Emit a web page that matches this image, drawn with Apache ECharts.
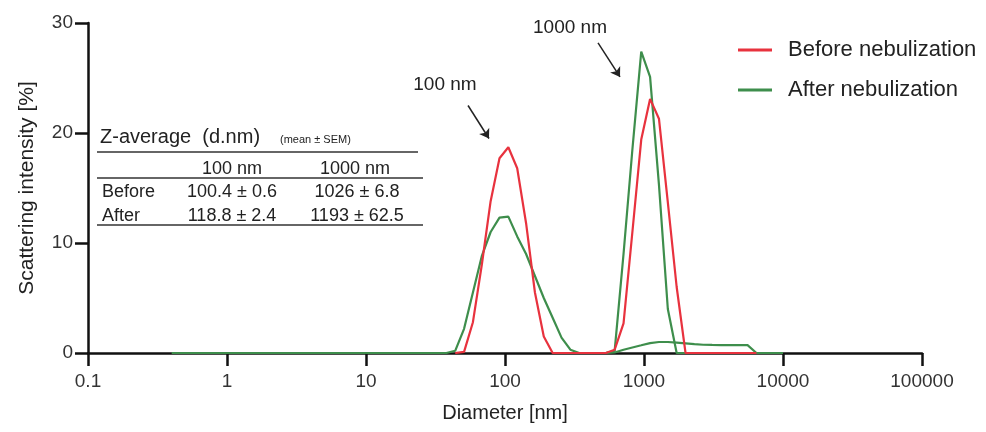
<!DOCTYPE html>
<html>
<head>
<meta charset="utf-8">
<script src="https://cdn.jsdelivr.net/npm/echarts@6/dist/echarts.min.js"></script>
<style>
html,body{margin:0;padding:0;background:#fff;}
#chart{width:986px;height:432px;}
</style>
</head>
<body>
<div id="chart"></div>
<script>
// Size classes (nm)
const sizeBins = [
  0.4, 0.4632, 0.5365, 0.6213, 0.7195, 0.8332, 0.9649, 1.117, 1.294, 1.499,
  1.736, 2.01, 2.328, 2.696, 3.122, 3.615, 4.187, 4.849, 5.615, 6.503,
  7.531, 8.721, 10.1, 11.7, 13.54, 15.69, 18.17, 21.04, 24.36, 28.21,
  32.67, 37.84, 43.82, 50.75, 58.77, 68.06, 78.82, 91.28, 105.7, 122.4,
  141.8, 164.2, 190.1, 220.2, 255, 295.3, 342, 396.1, 458.7, 531.2,
  615.1, 712.4, 825, 955.4, 1106, 1281, 1484, 1718, 1990, 2305,
  2669, 3091, 3580, 4145, 4801, 5560, 6439, 7456, 8635, 10000
];
// Before nebulization (%)
const beforeVals = [
  null, null, null, null, null, null, null, null, null, null,
  null, null, null, null, null, null, null, null, null, null,
  null, null, null, null, null, null, null, null, null, null,
  null, null, 0, 0.1, 2.8, 8.0, 13.8, 17.7, 18.7, 16.8,
  11.8, 5.5, 1.5, 0, 0, 0, 0, 0, 0, 0,
  0.3, 2.7, 11.0, 19.4, 23.1, 21.3, 13.7, 6.0, 0, 0,
  0, 0, 0, 0, 0, 0, 0, null, null, null
];
// After nebulization (%) - 100 nm sample trace with broad tail
const afterVals = [
  0, 0, 0, 0, 0, 0, 0, 0, 0, 0,
  0, 0, 0, 0, 0, 0, 0, 0, 0, 0,
  0, 0, 0, 0, 0, 0, 0, 0, 0, 0,
  0, 0, 0.2, 2.2, 5.5, 8.8, 11.0, 12.3, 12.4, 10.6,
  9.0, 7.0, 5.0, 3.2, 1.4, 0.3, 0, 0, 0, 0,
  0.05, 0.3, 0.5, 0.7, 0.9, 1.0, 1.0, 0.95, 0.88, 0.8,
  0.75, 0.73, 0.72, 0.72, 0.72, 0.72, 0, 0, 0, 0
];
// After nebulization (%) - 1000 nm sample trace
const afterPeakVals = [
  null, null, null, null, null, null, null, null, null, null,
  null, null, null, null, null, null, null, null, null, null,
  null, null, null, null, null, null, null, null, null, null,
  null, null, null, null, null, null, null, null, null, null,
  null, null, null, null, null, null, null, null, null, 0,
  0.2, 9.0, 18.5, 27.4, 25.1, 15.3, 4.0, 0, 0, null,
  null, null, null, null, null, null, null, null, null, null
];
const xTickLabels = ['0.1', '1', '10', '100', '1000', '10000', '100000'];
const yTickLabels = ['0', '10', '20', '30'];
const seriesNames = ['Before nebulization', 'After nebulization'];
const tableTitle = 'Z-average  (d.nm)';
const tableSubtitle = '(mean ± SEM)';
const tableHead = ['100 nm', '1000 nm'];
const tableRowNames = ['Before', 'After'];
const table100 = ['100.4 ± 0.6', '118.8 ± 2.4'];
const table1000 = ['1026 ± 6.8', '1193 ± 62.5'];
const annoTexts = ['100 nm', '1000 nm'];

function pairs(vals) {
  const out = [];
  vals.forEach((v, i) => { if (v !== null) out.push([sizeBins[i], v]); });
  return out;
}

const RED = '#e8323e';
const GREEN = '#3e8e4c';
const FONT = 'Liberation Sans, Arial, sans-serif';
const TXT = '#222';

const chart = echarts.init(document.getElementById('chart'));

const tableGraphics = [];
function addText(x, y, text, size, align) {
  tableGraphics.push({
    type: 'text', x: x, y: y, silent: true,
    style: { text: text, fontSize: size, fontFamily: FONT, fill: TXT,
             align: align || 'left', verticalAlign: 'middle' }
  });
}
function addLine(x1, x2, y) {
  tableGraphics.push({
    type: 'line', silent: true,
    shape: { x1: x1, y1: y, x2: x2, y2: y },
    style: { stroke: '#333', lineWidth: 1.5 }
  });
}
addText(100, 137, tableTitle, 20, 'left');
addText(280, 140, tableSubtitle, 11, 'left');
addLine(97, 418, 152);
addText(232, 169, tableHead[0], 18, 'center');
addText(355, 169, tableHead[1], 18, 'center');
addLine(97, 423, 178);
tableRowNames.forEach((n, i) => {
  const y = 192 + i * 24;
  addText(102, y, n, 18, 'left');
  addText(232, y, table100[i], 18, 'center');
  addText(357, y, table1000[i], 18, 'center');
});
addLine(97, 423, 225);

const option = {
  animation: false,
  backgroundColor: '#fff',
  grid: { left: 88, right: 64, top: 23, bottom: 79 },
  legend: {
    data: seriesNames,
    orient: 'vertical',
    left: 733, top: 34,
    itemWidth: 34, itemHeight: 3, itemGap: 18,
    icon: 'rect',
    textStyle: { fontSize: 22, fontFamily: FONT, color: TXT, lineHeight: 22, padding: [0, 0, 0, 11] }
  },
  xAxis: {
    type: 'log', logBase: 10, min: 0.1, max: 100000,
    name: 'Diameter [nm]', nameLocation: 'middle', nameGap: 50,
    nameTextStyle: { fontSize: 20, fontFamily: FONT, color: TXT },
    axisLine: { lineStyle: { color: '#111', width: 2.5 } },
    axisTick: { show: true, length: 13, lineStyle: { color: '#111', width: 2.5 } },
    minorTick: { show: false },
    splitLine: { show: false },
    axisLabel: {
      fontSize: 19, fontFamily: FONT, color: '#333', margin: 19,
      formatter: function (v) {
        const k = Math.round(Math.log10(v)) + 1;
        return xTickLabels[k] !== undefined ? xTickLabels[k] : '';
      }
    }
  },
  yAxis: {
    type: 'value', min: 0, max: 30, interval: 10,
    name: 'Scattering intensity [%]', nameLocation: 'middle', nameGap: 50,
    nameTextStyle: { fontSize: 21, fontFamily: FONT, color: TXT },
    axisLine: { show: true, lineStyle: { color: '#111', width: 2.5 } },
    axisTick: { show: true, length: 13, lineStyle: { color: '#111', width: 2.5 } },
    splitLine: { show: false },
    axisLabel: {
      fontSize: 19, fontFamily: FONT, color: '#333', margin: 15,
      formatter: function (v) { return yTickLabels[Math.round(v / 10)]; }
    }
  },
  series: [
    {
      name: seriesNames[1], type: 'line', data: pairs(afterVals),
      showSymbol: false, symbol: 'none', color: GREEN,
      lineStyle: { color: GREEN, width: 2.2 }, z: 3
    },
    {
      name: seriesNames[1], type: 'line', data: pairs(afterPeakVals),
      showSymbol: false, symbol: 'none', color: GREEN,
      lineStyle: { color: GREEN, width: 2.2 }, z: 3
    },
    {
      name: seriesNames[0], type: 'line', data: pairs(beforeVals),
      showSymbol: false, symbol: 'none', color: RED,
      lineStyle: { color: RED, width: 2.2 }, z: 4
    },
    {
      name: 'annotations', type: 'line', data: [], silent: true,
      markLine: {
        silent: true, symbol: ['none', 'arrow'], symbolSize: 9,
        itemStyle: { color: '#222' },
        lineStyle: { color: '#222', width: 1.5, type: 'solid' },
        label: { show: false },
        data: [
          [{ coord: [54.2, 22.5] }, { coord: [76.7, 19.5] }],
          [{ coord: [467, 28.2] }, { coord: [672, 25.1] }]
        ]
      },
      markPoint: {
        silent: true, symbol: 'circle', symbolSize: 1,
        itemStyle: { color: 'rgba(0,0,0,0)' },
        label: { show: true, position: 'inside', fontSize: 19, fontFamily: FONT, color: TXT,
                 formatter: function (p) { return p.name; } },
        data: [
          { name: annoTexts[0], coord: [37, 24.4] },
          { name: annoTexts[1], coord: [293.6, 29.6] }
        ]
      }
    }
  ],
  graphic: tableGraphics
};
chart.setOption(option);
</script>
</body>
</html>
